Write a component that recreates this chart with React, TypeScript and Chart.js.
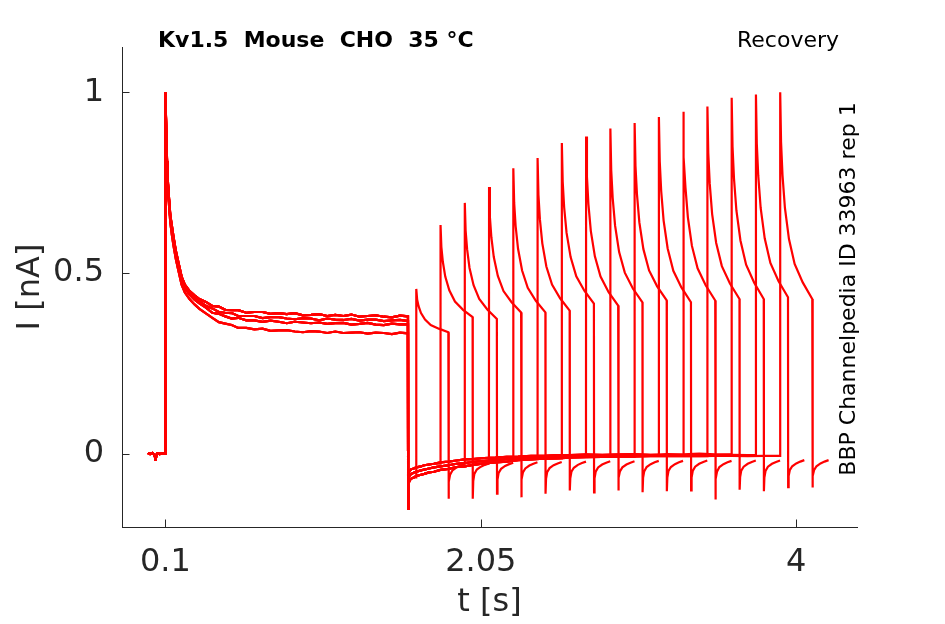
import React, { useEffect, useRef } from 'react';
import { Chart, registerables } from 'chart.js';
import type { Plugin } from 'chart.js';

Chart.register(...registerables);

const FONT = 'DejaVu Sans';
const RED = '#ff0000';
const AXIS = '#262626';

// axis ranges and ticks (t in s, I in nA)
const X_MIN = -0.1686;
const X_MAX = 4.3756;
const Y_MIN = -0.203;
const Y_MAX = 1.1255;
const xTicks = [0.1, 2.05, 4];
const yTicks = [0, 0.5, 1];

const titleText = 'Kv1.5  Mouse  CHO  35 °C';
const protocolText = 'Recovery';
const sourceText = 'BBP Channelpedia ID 33963 rep 1';

// holding before the conditioning pulse
const baseTime = [-0.008, 0.005, 0.02, 0.032, 0.037, 0.04, 0.043, 0.05, 0.065, 0.08, 0.0995];
const baseCurrent = [0.002, -0.001, 0.002, -0.003, -0.012, -0.019, -0.004, 0.001, -0.001, 0.001, 0.0];

// conditioning pulse (four sweep groups, top to bottom of the band)
const preTime = [
  0.1005, 0.105, 0.11, 0.115, 0.12, 0.13, 0.14, 0.15, 0.165, 0.18,
  0.2, 0.22, 0.25, 0.28, 0.31, 0.35, 0.39, 0.43, 0.47, 0.51,
  0.55, 0.6, 0.65, 0.7, 0.75, 0.8, 0.85, 0.9, 0.95, 1.0,
  1.05, 1.1, 1.15, 1.2, 1.25, 1.3, 1.35, 1.4, 1.45, 1.5,
  1.55, 1.5995,
];
const preHigh = [
  1.0, 0.89, 0.81, 0.755, 0.72, 0.66, 0.63, 0.6, 0.56, 0.53,
  0.49, 0.468, 0.45, 0.438, 0.428,
  0.42, 0.409, 0.407, 0.398, 0.397, 0.397, 0.39, 0.392, 0.392, 0.387,
  0.389, 0.386, 0.389, 0.383, 0.384, 0.386, 0.381, 0.384, 0.381, 0.385,
  0.379, 0.381, 0.383, 0.379, 0.377, 0.382, 0.38,
];
const preUpperMid = [
  1.0, 0.885, 0.805, 0.75, 0.715, 0.655, 0.624, 0.594, 0.555, 0.525,
  0.485, 0.463, 0.445, 0.432, 0.422,
  0.409, 0.402, 0.392, 0.39, 0.389, 0.381, 0.381, 0.381, 0.375, 0.378,
  0.378, 0.374, 0.372, 0.375, 0.374, 0.369, 0.374, 0.371, 0.37, 0.373,
  0.368, 0.371, 0.371, 0.367, 0.369, 0.37, 0.367,
];
const preMid = [
  1.0, 0.88, 0.8, 0.745, 0.71, 0.65, 0.618, 0.588, 0.55, 0.52,
  0.48, 0.458, 0.44, 0.426, 0.416,
  0.404, 0.39, 0.387, 0.38, 0.374, 0.376, 0.369, 0.369, 0.365, 0.368,
  0.365, 0.361, 0.365, 0.363, 0.361, 0.363, 0.359, 0.361, 0.362, 0.357,
  0.359, 0.362, 0.357, 0.356, 0.36, 0.358, 0.358,
];
const preLow = [
  1.0, 0.87, 0.79, 0.735, 0.7, 0.64, 0.605, 0.575, 0.537, 0.507,
  0.468, 0.446, 0.427, 0.413, 0.401,
  0.388, 0.376, 0.364, 0.36, 0.356, 0.348, 0.348, 0.344, 0.346, 0.34,
  0.341, 0.342, 0.338, 0.336, 0.339, 0.338, 0.334, 0.338, 0.334, 0.335,
  0.336, 0.332, 0.335, 0.334, 0.331, 0.335, 0.333,
];

// recovery at holding potential after the conditioning pulse
const holdTime = [
  1.6004, 1.602, 1.605, 1.61, 1.62, 1.635, 1.65, 1.675, 1.7, 1.73,
  1.76, 1.8, 1.85, 1.9, 1.95, 2.0, 2.07, 2.14, 2.21, 2.28,
  2.36, 2.44, 2.52, 2.6, 2.7, 2.8, 2.9, 3.0, 3.1, 3.2,
  3.3, 3.4, 3.5, 3.6, 3.7, 3.8, 3.9,
];
const holdUpper = [
  -0.153, -0.075, -0.055, -0.047, -0.043, -0.041, -0.038, -0.036, -0.032, -0.03,
  -0.028, -0.024, -0.022, -0.019, -0.016, -0.015, -0.012, -0.011, -0.009, -0.008,
  -0.006, -0.006, -0.004, -0.004, -0.002, -0.003, -0.002, -0.001, -0.003, -0.001,
  -0.002, 0.0, -0.002, -0.001, -0.001, -0.002, 0.0,
];
const holdMid = [
  -0.153, -0.086, -0.068, -0.06, -0.056, -0.053, -0.05, -0.047, -0.044, -0.041,
  -0.038, -0.035, -0.032, -0.028, -0.026, -0.023, -0.02, -0.018, -0.015, -0.013,
  -0.011, -0.01, -0.008, -0.007, -0.006, -0.006, -0.005, -0.004, -0.005, -0.004,
  -0.004, -0.003, -0.004, -0.003, -0.004, -0.003, -0.003,
];
const holdLower = [
  -0.153, -0.098, -0.082, -0.074, -0.069, -0.066, -0.062, -0.059, -0.056, -0.052,
  -0.05, -0.045, -0.042, -0.037, -0.035, -0.031, -0.027, -0.024, -0.022, -0.018,
  -0.016, -0.014, -0.013, -0.011, -0.01, -0.009, -0.008, -0.008, -0.007, -0.007,
  -0.006, -0.007, -0.006, -0.006, -0.007, -0.006, -0.006,
];

// test pulses: start time of each sweep, samples at offsets from the start
const testStart = [1.65, 1.8, 1.95, 2.1, 2.25, 2.4, 2.55, 2.7, 2.85, 3.0, 3.15, 3.3, 3.45, 3.6, 3.75, 3.9];
const testOffset = [0.0008, 0.006, 0.015, 0.03, 0.055, 0.09, 0.14, 0.199];
const testCurrent = [
  [0.456, 0.427, 0.408, 0.389, 0.371, 0.356, 0.346, 0.336],
  [0.633, 0.572, 0.531, 0.49, 0.452, 0.421, 0.398, 0.378],
  [0.694, 0.617, 0.566, 0.514, 0.466, 0.428, 0.399, 0.373],
  [0.738, 0.655, 0.599, 0.544, 0.492, 0.45, 0.419, 0.391],
  [0.79, 0.694, 0.63, 0.567, 0.507, 0.459, 0.423, 0.391],
  [0.818, 0.717, 0.649, 0.582, 0.518, 0.468, 0.43, 0.396],
  [0.86, 0.753, 0.682, 0.611, 0.544, 0.491, 0.451, 0.415],
  [0.878, 0.766, 0.691, 0.616, 0.546, 0.49, 0.447, 0.41],
  [0.9, 0.785, 0.708, 0.631, 0.558, 0.501, 0.457, 0.419],
  [0.915, 0.797, 0.719, 0.64, 0.566, 0.507, 0.463, 0.424],
  [0.932, 0.809, 0.727, 0.645, 0.568, 0.506, 0.46, 0.419],
  [0.946, 0.821, 0.737, 0.654, 0.575, 0.513, 0.466, 0.424],
  [0.961, 0.833, 0.748, 0.663, 0.583, 0.519, 0.471, 0.428],
  [0.985, 0.851, 0.762, 0.673, 0.59, 0.523, 0.473, 0.428],
  [0.994, 0.859, 0.77, 0.68, 0.596, 0.528, 0.478, 0.433],
  [1.0, 0.863, 0.771, 0.68, 0.594, 0.525, 0.474, 0.428],
];

// tail currents after each test pulse
const tailOffset = [0.2, 0.203, 0.21, 0.225, 0.25, 0.275, 0.3];
const tailCurrent = [
  [-0.125, -0.078, -0.058, -0.046, -0.038, -0.033, -0.029],
  [-0.125, -0.076, -0.056, -0.044, -0.036, -0.031, -0.027],
  [-0.111, -0.072, -0.053, -0.042, -0.034, -0.029, -0.025],
  [-0.121, -0.072, -0.052, -0.041, -0.033, -0.028, -0.024],
  [-0.111, -0.07, -0.051, -0.04, -0.032, -0.027, -0.023],
  [-0.102, -0.068, -0.05, -0.039, -0.031, -0.026, -0.022],
  [-0.107, -0.068, -0.05, -0.038, -0.03, -0.025, -0.021],
  [-0.102, -0.067, -0.049, -0.038, -0.03, -0.025, -0.021],
  [-0.107, -0.067, -0.049, -0.037, -0.029, -0.024, -0.02],
  [-0.104, -0.066, -0.048, -0.037, -0.029, -0.024, -0.02],
  [-0.102, -0.066, -0.048, -0.036, -0.028, -0.023, -0.019],
  [-0.127, -0.07, -0.05, -0.037, -0.029, -0.024, -0.02],
  [-0.1, -0.065, -0.047, -0.036, -0.028, -0.023, -0.019],
  [-0.104, -0.066, -0.048, -0.036, -0.028, -0.023, -0.019],
  [-0.093, -0.062, -0.046, -0.035, -0.027, -0.022, -0.018],
  [-0.094, -0.062, -0.046, -0.035, -0.027, -0.022, -0.018],
];

// which conditioning / holding trace each sweep follows
const preGroup = [0, 1, 3, 0, 2, 1, 3, 0, 2, 1, 0, 2, 3, 1, 0, 2];
const holdGroup = [1, 0, 2, 1, 0, 2, 1, 0, 2, 1, 0, 2, 1, 0, 2, 1];

type Pt = { x: number; y: number };

function buildSweep(k: number): Pt[] {
  const pts: Pt[] = [];
  baseTime.forEach((t, i) => pts.push({ x: t, y: baseCurrent[i] }));
  pts.push({ x: 0.1, y: baseCurrent[baseCurrent.length - 1] });
  const pre = [preHigh, preUpperMid, preMid, preLow][preGroup[k]];
  preTime.forEach((t, i) => pts.push({ x: t, y: pre[i] }));
  const hold = [holdUpper, holdLower, holdMid][holdGroup[k]];
  const start = testStart[k];
  let last = hold[0];
  holdTime.forEach((t, i) => {
    if (t < start) {
      pts.push({ x: t, y: hold[i] });
      last = hold[i];
    }
  });
  pts.push({ x: start, y: last });
  testOffset.forEach((dt, i) => pts.push({ x: start + dt, y: testCurrent[k][i] }));
  tailOffset.forEach((dt, i) => pts.push({ x: start + dt, y: tailCurrent[k][i] }));
  return pts;
}

const TICK_LEN = 7.5;

const decorations: Plugin<'line'> = {
  id: 'decorations',
  afterDraw(chart) {
    const { ctx, chartArea, scales } = chart;
    const xs = scales.x;
    const ys = scales.y;
    ctx.save();
    ctx.strokeStyle = AXIS;
    ctx.lineWidth = 1;
    ctx.beginPath();
    xTicks.forEach((v) => {
      const px = Math.round(xs.getPixelForValue(v)) + 0.5;
      ctx.moveTo(px, chartArea.bottom);
      ctx.lineTo(px, chartArea.bottom - TICK_LEN);
    });
    yTicks.forEach((v) => {
      const py = Math.round(ys.getPixelForValue(v)) + 0.5;
      ctx.moveTo(chartArea.left, py);
      ctx.lineTo(chartArea.left + TICK_LEN, py);
    });
    ctx.stroke();

    ctx.fillStyle = '#000000';
    ctx.textBaseline = 'alphabetic';
    ctx.font = `bold 22px "${FONT}"`;
    ctx.textAlign = 'left';
    ctx.fillText(titleText, 158, 47);
    ctx.font = `22px "${FONT}"`;
    ctx.textAlign = 'right';
    ctx.fillText(protocolText, 839, 47);

    ctx.translate(849, 289);
    ctx.rotate(-Math.PI / 2);
    ctx.textAlign = 'center';
    ctx.textBaseline = 'middle';
    ctx.fillText(sourceText, 0, 0);
    ctx.restore();
  },
};

export default function App() {
  const canvasRef = useRef<HTMLCanvasElement>(null);
  const chartRef = useRef<Chart | null>(null);

  useEffect(() => {
    document.body.style.margin = '0';
    if (!canvasRef.current) return;
    if (chartRef.current) chartRef.current.destroy();

    const datasets = testStart.map((_, k) => ({
      data: buildSweep(k),
      borderColor: RED,
      borderWidth: 2.2,
      pointRadius: 0,
      tension: 0,
      fill: false,
    }));

    chartRef.current = new Chart(canvasRef.current, {
      type: 'line',
      data: { datasets },
      options: {
        responsive: false,
        animation: false,
        events: [],
        layout: { padding: { top: 47, right: 88, left: 0, bottom: 0 } },
        plugins: {
          legend: { display: false },
          tooltip: { enabled: false },
        },
        scales: {
          x: {
            type: 'linear',
            min: X_MIN,
            max: X_MAX,
            afterBuildTicks: (s) => {
              s.ticks = xTicks.map((value) => ({ value }));
            },
            afterFit: (s) => {
              s.height = 97;
            },
            grid: { display: false, drawTicks: false },
            border: { display: true, color: AXIS, width: 1 },
            ticks: {
              padding: 16,
              color: AXIS,
              maxRotation: 0,
              autoSkip: false,
              font: { family: FONT, size: 32 },
              callback: (v) => String(v),
            },
            title: {
              display: true,
              text: 't [s]',
              color: AXIS,
              font: { family: FONT, size: 32 },
              padding: { top: 0, bottom: 2 },
            },
          },
          y: {
            type: 'linear',
            min: Y_MIN,
            max: Y_MAX,
            afterBuildTicks: (s) => {
              s.ticks = yTicks.map((value) => ({ value }));
            },
            afterFit: (s) => {
              s.width = 122;
            },
            grid: { display: false, drawTicks: false },
            border: { display: true, color: AXIS, width: 1 },
            ticks: {
              padding: 18,
              color: AXIS,
              autoSkip: false,
              font: { family: FONT, size: 32 },
              callback: (v) => String(v),
            },
            title: {
              display: true,
              text: 'I [nA]',
              color: AXIS,
              font: { family: FONT, size: 32 },
              padding: { top: 11, bottom: 0 },
            },
          },
        },
      },
      plugins: [decorations],
    });

    return () => {
      if (chartRef.current) {
        chartRef.current.destroy();
        chartRef.current = null;
      }
    };
  }, []);

  return (
    <div style={{ position: 'absolute', left: 0, top: 0, width: 945, height: 624, background: '#fff' }}>
      <canvas ref={canvasRef} width={945} height={624} style={{ display: 'block' }} />
    </div>
  );
}
